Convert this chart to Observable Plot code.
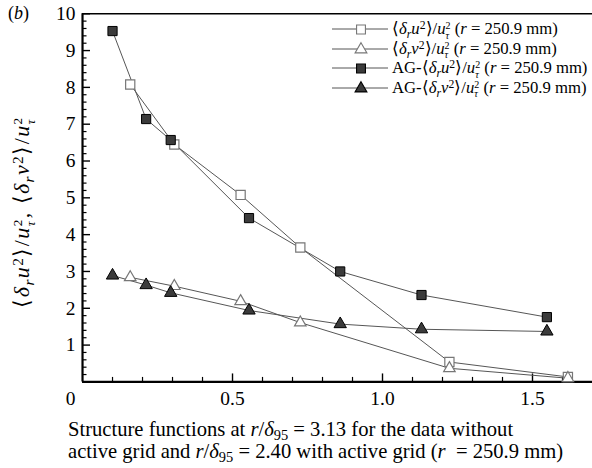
<!DOCTYPE html>
<html>
<head>
<meta charset="utf-8">
<script src="https://cdn.jsdelivr.net/npm/d3@7"></script>
<script src="https://cdn.jsdelivr.net/npm/@observablehq/plot@0.6"></script>
<style>
  html, body { margin: 0; padding: 0; background: #fff; overflow: hidden; }
  #wrap { position: relative; width: 592px; height: 468px; font-family: "Liberation Serif", serif; color: #000; }
  #chart { position: absolute; left: 0; top: 0; }
  .abs { position: absolute; white-space: nowrap; }
  .ss { display: inline-block; vertical-align: -0.42em; font-size: 0.6em; line-height: 1; text-align: left; }
  .ss span { display: block; height: 0.95em; }
  sub { font-size: 0.7em; vertical-align: -0.3em; line-height: 0; }
  sup { font-size: 0.7em; vertical-align: 0.45em; line-height: 0; }
  #legend { left: 330px; top: 19.5px; font-size: 16.7px; }
  #legend .row { height: 19.5px; display: flex; align-items: center; }
  #legend svg { margin-right: 4px; }
  #ylab { left: 23px; top: 212px; font-size: 22px; letter-spacing: 1.4px; transform: translate(-50%, -50%) rotate(-90deg); }
  #tag { left: 8px; top: 3px; font-size: 18px; }
  .cap { left: 68px; font-size: 20.6px; line-height: 21px; }
</style>
</head>
<body>
<div id="wrap">
  <div id="chart"></div>
  <div id="tag" class="abs">(<i>b</i>)</div>
  <div id="ylab" class="abs">⟨<i>δ<sub>r</sub>u</i><sup>2</sup>⟩/<i>u</i><span class="ss"><span>2</span><span><i>τ</i></span></span>, ⟨<i>δ<sub>r</sub>v</i><sup>2</sup>⟩/<i>u</i><span class="ss"><span>2</span><span><i>τ</i></span></span></div>
  <div id="legend" class="abs"></div>
  <div class="abs cap" style="top:419px">Structure functions at <i>r</i>/<i>δ</i><sub>95</sub> = 3.13 for the data without</div>
  <div class="abs cap" style="top:441px">active grid and <i>r</i>/<i>δ</i><sub>95</sub> = 2.40 with active grid (<i>r</i>&nbsp; = 250.9 mm)</div>
</div>
<script>
// ---- data ----
const noGridX = [0.159, 0.306, 0.527, 0.726, 1.223, 1.618];
const noGridU = [8.08, 6.45, 5.08, 3.65, 0.54, 0.135];
const noGridV = [2.84, 2.60, 2.19, 1.61, 0.37, 0.10];
const agX = [0.100, 0.212, 0.294, 0.555, 0.859, 1.130, 1.548];
const agU = [9.53, 7.14, 6.57, 4.45, 3.00, 2.36, 1.76];
const agV = [2.89, 2.63, 2.42, 1.94, 1.57, 1.43, 1.37];
const xMajor = [0.5, 1.0, 1.5];
const xMinor = [0.1, 0.2, 0.3, 0.4, 0.6, 0.7, 0.8, 0.9, 1.1, 1.2, 1.3, 1.4, 1.6];
const yMajor = [1, 2, 3, 4, 5, 6, 7, 8, 9, 10];
const yMinor = d3.range(1, 50).map(i => i * 0.2).filter(v => Math.abs(v - Math.round(v)) > 1e-6);

const series = [
  {key: "u", x: noGridX, y: noGridU, symbol: "square", filled: false},
  {key: "v", x: noGridX, y: noGridV, symbol: "triangle", filled: false},
  {key: "agu", x: agX, y: agU, symbol: "square", filled: true},
  {key: "agv", x: agX, y: agV, symbol: "triangle", filled: true}
];
const rows = series.flatMap(s => s.x.map((x, i) => ({key: s.key, x, y: s.y[i], symbol: s.symbol, filled: s.filled})));

const lineColor = "#555";
const openStroke = "#777";
const fillDark = "#3b3b3b";

const font = "'Liberation Serif', serif";
const chart = Plot.plot({
  width: 594,
  height: 412,
  marginLeft: 82.3,
  marginRight: 0,
  marginTop: 13.3,
  marginBottom: 29.3,
  style: {fontFamily: font, fontSize: "19px", background: "transparent", overflow: "visible"},
  x: {domain: [0, 1.7], axis: null},
  y: {domain: [0, 10], axis: null},
  marks: [
    Plot.axisX(xMinor, {tickSize: -4.5, fill: "none", strokeWidth: 1.2, label: null}),
    Plot.axisX(xMajor, {tickSize: -8, fill: "none", strokeWidth: 1.4, label: null}),
    Plot.axisY(yMinor, {tickSize: -4.5, fill: "none", strokeWidth: 1.2, label: null}),
    Plot.axisY(yMajor, {tickSize: -8, fill: "none", strokeWidth: 1.4, label: null}),
    Plot.axisX(xMajor, {tickSize: 0, tickPadding: 9, stroke: "none", tickFormat: d => d.toFixed(1), label: null, fontSize: 19.5}),
    Plot.axisY(yMajor, {tickSize: 0, tickPadding: 7, stroke: "none", label: null, fontSize: 19.5}),
    Plot.text([0], {x: 0, y: 0, text: d => String(d), dx: -12, dy: 17, fontSize: 19.5}),
    Plot.ruleY([10], {stroke: "#000", strokeWidth: 1.6}),
    Plot.ruleX([0], {stroke: "#000", strokeWidth: 2.2}),
    Plot.ruleY([0], {stroke: "#000", strokeWidth: 2.2}),
    Plot.line(rows, {x: "x", y: "y", z: "key", stroke: lineColor, strokeWidth: 1}),
    Plot.dot(rows.filter(d => !d.filled && d.symbol === "square"), {x: "x", y: "y", symbol: "square", r: 5.2, fill: "#fff", stroke: openStroke, strokeWidth: 1.2}),
    Plot.dot(rows.filter(d => !d.filled && d.symbol === "triangle"), {x: "x", y: "y", symbol: "triangle", r: 4.3, fill: "#fff", stroke: openStroke, strokeWidth: 1.2}),
    Plot.dot(rows.filter(d => d.filled && d.symbol === "square"), {x: "x", y: "y", symbol: "square", r: 5.2, fill: fillDark, stroke: "#000", strokeWidth: 1}),
    Plot.dot(rows.filter(d => d.filled && d.symbol === "triangle"), {x: "x", y: "y", symbol: "triangle", r: 4.6, fill: fillDark, stroke: "#000", strokeWidth: 1})
  ]
});
document.getElementById("chart").appendChild(chart);

const legendLabels = [
  '⟨<i>δ<sub>r</sub>u</i><sup>2</sup>⟩/<i>u</i><span class="ss"><span>2</span><span><i>τ</i></span></span> (<i>r</i> = 250.9 mm)',
  '⟨<i>δ<sub>r</sub>v</i><sup>2</sup>⟩/<i>u</i><span class="ss"><span>2</span><span><i>τ</i></span></span> (<i>r</i> = 250.9 mm)',
  'AG-⟨<i>δ<sub>r</sub>u</i><sup>2</sup>⟩/<i>u</i><span class="ss"><span>2</span><span><i>τ</i></span></span> (<i>r</i> = 250.9 mm)',
  'AG-⟨<i>δ<sub>r</sub>v</i><sup>2</sup>⟩/<i>u</i><span class="ss"><span>2</span><span><i>τ</i></span></span> (<i>r</i> = 250.9 mm)'
];
const legend = document.getElementById("legend");
series.forEach((s, i) => {
  const row = document.createElement("div");
  row.className = "row";
  const sym = s.symbol === "square" ? d3.symbolSquare : d3.symbolTriangle;
  const size = s.symbol === "square" ? Math.PI * 25 : Math.PI * 4.4 * 4.4;
  const path = d3.symbol(sym, size)();
  const fill = s.filled ? fillDark : "#fff";
  const stroke = s.filled ? "#000" : openStroke;
  row.innerHTML = `<svg width="58" height="16"><line x1="2" x2="58" y1="8" y2="8" stroke="${lineColor}" stroke-width="1"/><path d="${path}" transform="translate(31,8.5)" fill="${fill}" stroke="${stroke}" stroke-width="1.1"/></svg><span>${legendLabels[i]}</span>`;
  legend.appendChild(row);
});
</script>
</body>
</html>
